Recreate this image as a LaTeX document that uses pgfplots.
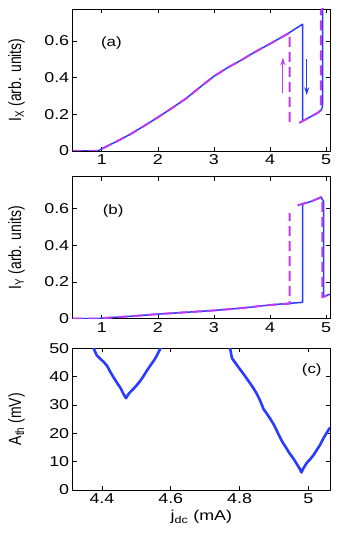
\documentclass[border=0pt]{standalone}
\usepackage{fontspec}
\setmainfont{Liberation Sans}[FakeStretch=1.25]
\newfontfamily\ylabfont{Liberation Sans}[FakeStretch=0.79]
\usepackage{pgfplots}
\pgfplotsset{compat=1.18}
\usetikzlibrary{arrows.meta}
\definecolor{cblue}{RGB}{40,60,255}
\definecolor{cmag}{RGB}{190,60,240}

\tikzset{arr/.style={line width=1.1pt, -{Stealth[length=8pt,width=5pt]}}}
\pgfplotsset{
  panel/.style={
    scale only axis, width=257.3pt, height=142pt,
    anchor=north west,
    tick align=inside, major tick length=4pt,
    axis line style={line width=0.8pt},
    every tick/.style={black, line width=0.8pt},
    tick label style={font=\fontsize{14.3}{16}\selectfont},
    /pgf/number format/assume math mode=true,
    ylabel style={font=\ylabfont\fontsize{17.7}{20}\selectfont,
      at={(axis description cs:-0.218,0.5)}, anchor=center},
    xlabel style={font=\fontsize{14.3}{16}\selectfont},
  },
  iv/.style={panel, xmin=0.48, xmax=5.07, ymin=0, ymax=0.775,
    xtick={1,2,3,4,5}, ytick={0,0.2,0.4,0.6}},
  bl/.style={cblue, line width=1.5pt, line join=round},
  mg/.style={cmag, line width=2pt, dash pattern=on 10pt off 5pt},
}

\begin{document}
\begin{tikzpicture}
\useasboundingbox (0,0) rectangle (338pt,545pt);

% (a)
\begin{axis}[iv, at={(72.7pt,536pt)}, ylabel={I\textsubscript{X} (arb. units)}]
\addplot[bl] coordinates {
(0.48,0) (0.93,0) (1.0,0.012) (1.25,0.05) (1.5,0.09) (1.75,0.136) (2,0.184)
(2.25,0.234) (2.5,0.286) (2.75,0.348) (3,0.408) (3.25,0.456) (3.5,0.498)
(3.7,0.535) (4,0.585) (4.3,0.637) (4.58,0.692) (4.58,0.163) (4.7,0.183)
(4.85,0.208) (4.91,0.222) (4.935,0.24) (4.94,0.3) (4.94,0.8)};
\addplot[mg] coordinates {
(0.48,0) (0.93,0) (1.0,0.012) (1.25,0.05) (1.5,0.09) (1.75,0.136) (2,0.184)
(2.25,0.234) (2.5,0.286) (2.75,0.348) (3,0.408) (3.25,0.456) (3.5,0.498)
(3.7,0.535) (4,0.585) (4.3,0.637) (4.35,0.645) (4.35,0.14)};
\addplot[mg] coordinates {
(4.52,0.153) (4.58,0.163) (4.7,0.183) (4.85,0.208) (4.905,0.222)
(4.905,0.76) (4.95,0.785)};
\node[font=\fontsize{13.5}{15}\selectfont] at (axis cs:1.17,0.59) {(a)};
\draw[cmag, arr] (axis cs:4.23,0.315) -- (axis cs:4.23,0.51);
\draw[cblue, arr] (axis cs:4.655,0.5) -- (axis cs:4.655,0.305);
\end{axis}

% (b)
\begin{axis}[iv, at={(72.7pt,368.3pt)}, ylabel={I\textsubscript{Y} (arb. units)}]
\addplot[bl] coordinates {
(0.48,0) (0.93,0) (1,0.003) (1.5,0.013) (2,0.025) (2.5,0.035) (3,0.045)
(3.5,0.058) (4,0.075) (4.3,0.083) (4.58,0.089) (4.58,0.625) (4.75,0.642)
(4.91,0.663) (4.955,0.64) (4.955,0.12) (5.07,0.134)};
\addplot[mg] coordinates {
(0.48,0) (0.93,0) (1,0.003) (1.5,0.013) (2,0.025) (2.5,0.035) (3,0.045)
(3.5,0.058) (4,0.075) (4.3,0.081) (4.35,0.082) (4.35,0.576)};
\addplot[mg] coordinates {
(4.49,0.618) (4.58,0.627) (4.75,0.642) (4.91,0.663) (4.935,0.65)
(4.935,0.118) (4.95,0.118) (5.07,0.135)};
\node[font=\fontsize{13.5}{15}\selectfont] at (axis cs:1.2,0.59) {(b)};
\end{axis}

% (c)
\begin{axis}[panel, at={(72.7pt,196.7pt)}, height=141.7pt,
  xmin=4.315, xmax=5.063, ymin=0, ymax=50,
  xtick={4.4,4.6,4.8,5}, ytick={0,10,20,30,40,50},
  xticklabel style={/pgf/number format/fixed},
  ylabel={A\textsubscript{th} (mV)}, xlabel={j\textsubscript{dc} (mA)},
  unbounded coords=jump]
\addplot[cblue, line width=2.6pt, line join=round] coordinates {
(4.372,51) (4.385,47.5) (4.395,46.3) (4.405,45.2) (4.415,43.8) (4.425,41.5)
(4.435,39.5) (4.445,37.6) (4.455,35.8) (4.462,34) (4.47,32.4) (4.478,34)
(4.49,35.5) (4.5,36.8) (4.51,38.3) (4.52,40) (4.53,42) (4.54,43.8)
(4.55,45.5) (4.56,47.5) (4.574,51)
(4.6,nan)
(4.771,51) (4.778,46.5) (4.79,44.5) (4.8,42.8) (4.81,41.2) (4.82,39.5)
(4.831,37.6) (4.84,36) (4.85,34) (4.86,31.5) (4.87,28.5) (4.879,27)
(4.89,25) (4.9,23) (4.91,20.5) (4.92,18) (4.927,16.5) (4.935,15)
(4.945,13) (4.956,11.2) (4.965,9.5) (4.975,7.5) (4.98,6.2) (4.985,7.5)
(4.995,9.5) (5.005,10.8) (5.015,12.3) (5.025,14.2) (5.034,15.9)
(5.045,18.5) (5.055,20.5) (5.063,22)};
\node[font=\fontsize{13.5}{15}\selectfont] at (axis cs:5.01,42.3) {(c)};
\end{axis}
\end{tikzpicture}
\end{document}
